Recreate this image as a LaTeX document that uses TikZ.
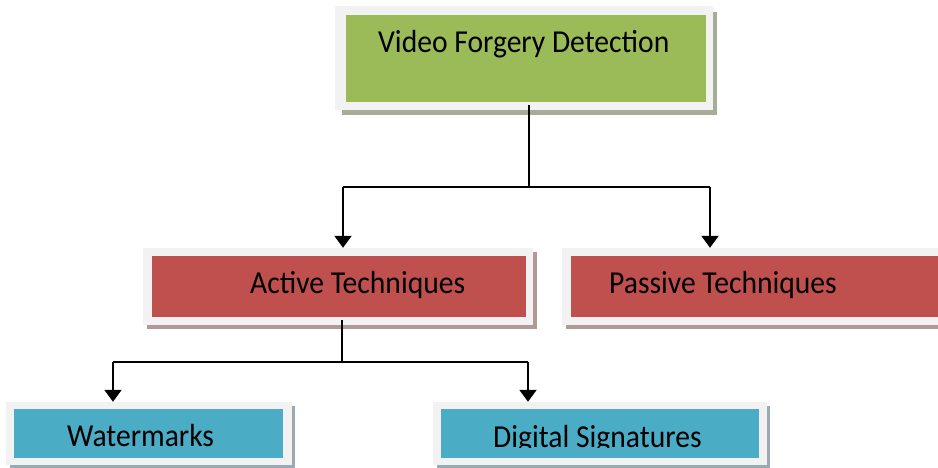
\documentclass[tikz,border=0pt]{standalone}
\usepackage{fontspec}
\setmainfont{Carlito}
\usetikzlibrary{arrows.meta,fit,calc}

\definecolor{boxgrey}{HTML}{F2F2F2}
\definecolor{topgreen}{HTML}{9BBB59}
\definecolor{midred}{HTML}{C0504D}
\definecolor{lowblue}{HTML}{4BACC6}
\definecolor{shgreen}{HTML}{A7AC97}
\definecolor{shred}{HTML}{B09A98}
\definecolor{shblue}{HTML}{9AAAB2}

\tikzset{
  frame/.style={fill=boxgrey, inner sep=0pt},
  label/.style={anchor=base west, inner sep=0pt, font=\fontsize{29.6}{34}\selectfont, text=black},
  link/.style={line width=2pt, black},
  arr/.style={link, -{Triangle[width=17pt,length=12pt]}},
}

\newcommand{\tallword}[1]{\scalebox{1}[1.08]{#1}}

\begin{document}
\begin{tikzpicture}[x=1pt,y=-1pt]
\useasboundingbox (0,0) rectangle (938,468);
\clip (0,0) rectangle (938,468);

% --- top box: Video Forgery Detection
\fill[shgreen] (342,12) rectangle (717,115);
\node[frame, fit={(335,6) (713,110)}] (vfd) {};
\fill[topgreen] (346,15) rectangle (706,102);
\node[label] (vfdt) at (378,53) {\tallword{Video Forgery Detection}};

% --- second row: Active / Passive
\fill[shred] (147,252) rectangle (537,329);
\node[frame, fit={(143,248) (533,325)}] (act) {};
\fill[midred] (152,256) rectangle (526,317);
\node[label] (actt) at (250,293) {\tallword{Active Techniques}};

\fill[shred] (566,252) rectangle (960,329);
\node[frame, fit={(562,248) (955,325)}] (pas) {};
\fill[midred] (571,256) rectangle (955,317);
\node[label] (past) at (609,293) {\tallword{Passive Techniques}};

% --- third row: Watermarks / Digital Signatures
\fill[shblue] (10,406) rectangle (295,472);
\node[frame, fit={(6,402) (292,465)}] (wm) {};
\fill[lowblue] (14,409) rectangle (283,458);
\node[label] (wmt) at (67,446) {\tallword{Watermarks}};

\fill[shblue] (437,406) rectangle (770,472);
\node[frame, fit={(433,402) (767,465)}] (ds) {};
\fill[lowblue] (441,409) rectangle (759,458);
\begin{scope}
  \clip (441,409) rectangle (759,447.5);
  \node[label] (dst) at (493,447) {\tallword{Digital Signatures}};
\end{scope}

% --- connectors, first level
\coordinate (j1) at (529,187);
\coordinate (l1) at (343,187);
\coordinate (r1) at (710,187);
\draw[link] ($(vfd.south -| j1)+(0,-5)$) -- (j1);
\draw[link] (l1) -- (r1);
\draw[arr] (l1) -- (l1 |- act.north);
\draw[arr] (r1) -- (r1 |- pas.north);

% --- connectors, second level
\coordinate (j2) at (342,362);
\coordinate (l2) at (113,362);
\coordinate (r2) at (528,362);
\draw[link] ($(act.south -| j2)+(0,-5)$) -- (j2);
\draw[link] (l2) -- (r2);
\draw[arr] (l2) -- (l2 |- wm.north);
\draw[arr] (r2) -- (r2 |- ds.north);
\end{tikzpicture}
\end{document}
